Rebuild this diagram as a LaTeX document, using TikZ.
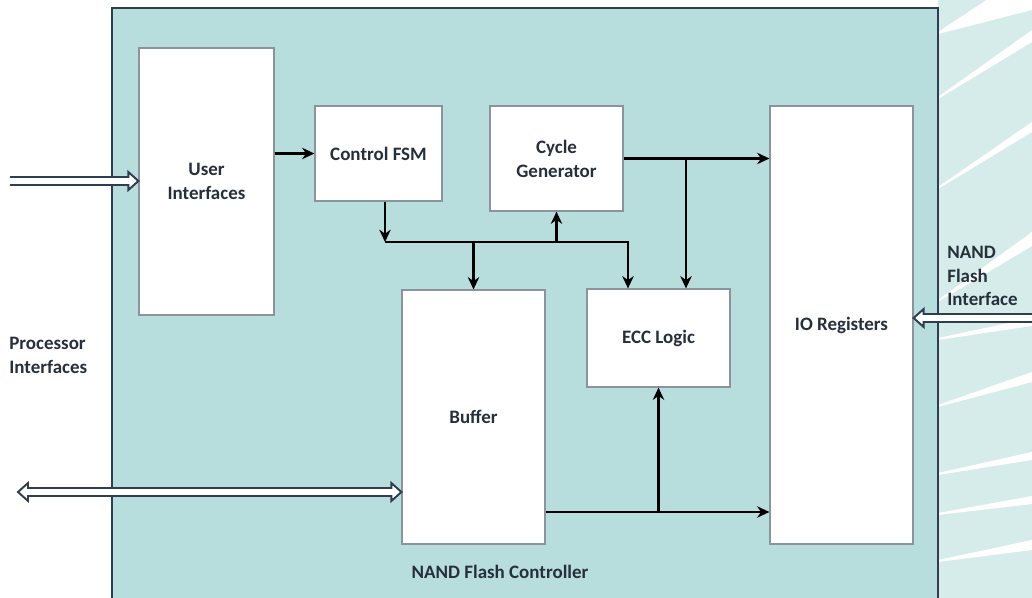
\documentclass[tikz,border=0pt]{standalone}
\usepackage{fontspec}
\setsansfont{Carlito}
\usetikzlibrary{arrows.meta, positioning, calc}
\definecolor{boardTeal}{HTML}{B7DEDD}
\definecolor{stripeTeal}{HTML}{D6ECEA}
\definecolor{frameNavy}{HTML}{2E3D4F}
\definecolor{blockGray}{HTML}{8A949D}
\definecolor{labelInk}{HTML}{26303C}

% open chevron head that continues a double shaft
\pgfdeclarearrow{
  name = HollowHead,
  setup code = {
    \pgfarrowssettipend{5.7pt}
    \pgfarrowssetlineend{0pt}
    \pgfarrowssetvisualbackend{0pt}
    \pgfarrowssetbackend{0pt}
  },
  drawing code = {
    \pgfsetlinewidth{1.1pt}
    \pgfsetmiterjoin
    \pgfsetbuttcap
    \pgfsetfillcolor{white}
    \pgfsetstrokecolor{frameNavy}
    % white body
    \pgfpathmoveto{\pgfpoint{-0.2pt}{2.3pt}}
    \pgfpathlineto{\pgfpoint{0pt}{5.1pt}}
    \pgfpathlineto{\pgfpoint{5.7pt}{0pt}}
    \pgfpathlineto{\pgfpoint{0pt}{-5.1pt}}
    \pgfpathlineto{\pgfpoint{-0.2pt}{-2.3pt}}
    \pgfpathclose
    \pgfusepathqfill
    % outline, open on the shaft side
    \pgfpathmoveto{\pgfpoint{-0.6pt}{2.3pt}}
    \pgfpathlineto{\pgfpoint{0pt}{2.3pt}}
    \pgfpathlineto{\pgfpoint{0pt}{5.1pt}}
    \pgfpathlineto{\pgfpoint{5.7pt}{0pt}}
    \pgfpathlineto{\pgfpoint{0pt}{-5.1pt}}
    \pgfpathlineto{\pgfpoint{0pt}{-2.3pt}}
    \pgfpathlineto{\pgfpoint{-0.6pt}{-2.3pt}}
    \pgfusepathqstroke
  }
}

\begin{document}
\begin{tikzpicture}[
    % one unit = one pixel of the 1032 x 598 page
    x=0.02cm, y=-0.02cm,
    % --- Node Styles ---
    labelFont/.style={font=\sffamily\bfseries\fontsize{10.8}{13.6}\selectfont, text=labelInk},
    block/.style={
        rectangle,
        draw=blockGray,
        line width=0.7pt,
        fill=white,
        inner sep=0pt,
        align=center,
        labelFont
    },
    board/.style={rectangle, draw=frameNavy, line width=1.2pt, fill=boardTeal, inner sep=0pt},
    sideLabel/.style={labelFont, align=left, anchor=west, inner sep=0pt},
    % --- Connector Styles ---
    flow/.style={-{Stealth[length=7pt, width=6.5pt]}, line width=1.5pt, black},
    hollow/.style={draw=frameNavy, line width=1.1pt, double=white, double distance=3.5pt}
]
    \useasboundingbox (0,0) rectangle (1032,598);

    % --- Backdrop Streaks (right edge) ---
    \fill[stripeTeal] (938,0) rectangle (1032,598);
    \fill[white] (938,32) -- (1032,-30) -- (1032,10) -- (938,34) -- cycle;
    \fill[white] (938,97) -- (1032,30) -- (1032,42) -- (938,99) -- cycle;
    \fill[white] (938,187) -- (1032,122) -- (1032,132) -- (938,189) -- cycle;
    \fill[white] (938,300) -- (1032,232) -- (1032,246) -- (938,302) -- cycle;
    \fill[white] (938,338) -- (1032,318) -- (1032,326) -- (938,340) -- cycle;
    \fill[white] (938,405) -- (1032,372) -- (1032,382) -- (938,407) -- cycle;
    \fill[white] (938,473) -- (1032,452) -- (1032,460) -- (938,475) -- cycle;
    \fill[white] (938,513) -- (1032,496) -- (1032,504) -- (938,515) -- cycle;
    \fill[white] (938,560) -- (1032,540) -- (1032,550) -- (938,562) -- cycle;

    % --- Controller Board ---
    \node (nfc) [board, minimum width=16.52cm, minimum height=12.08cm] at (525,310) {};

    % --- Blocks ---
    \node (user) [block, minimum width=2.70cm, minimum height=5.34cm] at (206.5,181.5) {User\\Interfaces};
    \node (ctrl) [block, minimum width=2.54cm, minimum height=1.90cm] at (378.5,153.5) {Control FSM};
    \node (cycle) [block, minimum width=2.66cm, minimum height=2.10cm] at (556.5,158.5) {Cycle\\Generator};
    \node (io) [block, minimum width=2.86cm, minimum height=8.76cm] at (841.5,325) {IO Registers};
    \node (buffer) [block, minimum width=2.86cm, minimum height=5.08cm] at (473.5,417) {Buffer};
    \node (ecc) [block, minimum width=2.86cm, minimum height=1.96cm] at (658.5,338) {ECC Logic};

    % --- Labels ---
    \node (procLbl) [sideLabel] at (9,355) {Processor\\Interfaces};
    \node (nandLbl) [sideLabel] at (947,276) {NAND\\Flash\\Interface};
    \node (nfcLbl) [labelFont] at (500,572) {NAND Flash Controller};

    % --- Tap Points ---
    \coordinate (busW) at (385,242);
    \coordinate (busE) at (628,242);
    \coordinate (tapT) at (686,0);
    \coordinate (busB) at (0,512);
    \coordinate (procA) at (10,181);
    \coordinate (procB) at (18,492);
    \coordinate (nandR) at (1045,318);

    % --- Internal Arrows ---
    \draw [flow] (user.east |- ctrl.west) -- (ctrl.west);
    \draw [flow] (cycle.east) -- (io.west |- cycle.east);
    \draw [flow] (tapT |- cycle.east) -- (tapT |- ecc.north);
    \draw [flow] (ctrl.south -| busW) -- (busW);
    \draw [flow] (busW) -- (busE) -- (busE |- ecc.north);
    \draw [flow] (buffer.north |- busW) -- (buffer.north);
    \draw [flow] (cycle.south |- busW) -- (cycle.south);
    \draw [flow] (buffer.east |- busB) -- (io.west |- busB);
    \draw [flow] (ecc.south |- busB) -- (ecc.south);

    % --- External Interfaces ---
    \draw [hollow, -{HollowHead}] (procA) -- (user.west |- procA);
    \draw [hollow, {HollowHead}-{HollowHead}] (procB) -- (buffer.west |- procB);
    \draw [hollow, {HollowHead}-{HollowHead}] (io.east |- nandR) -- (nandR);

\end{tikzpicture}
\end{document}
